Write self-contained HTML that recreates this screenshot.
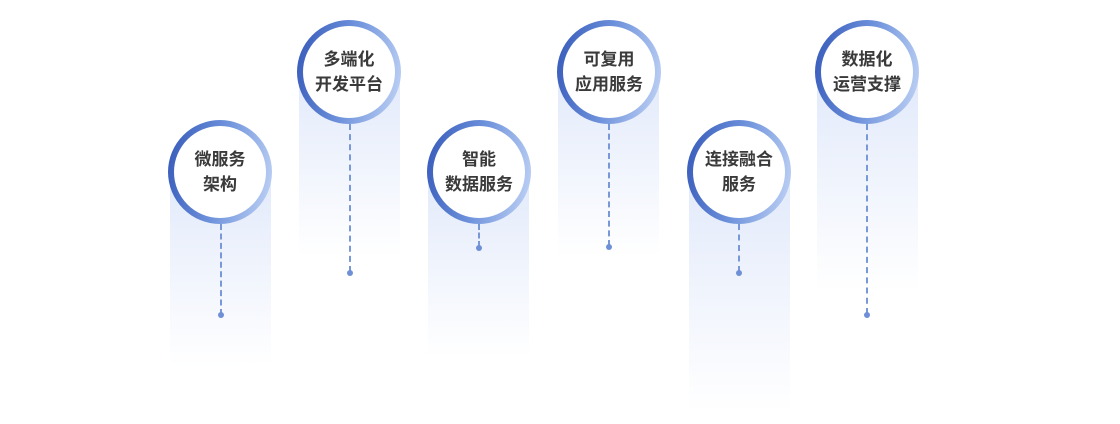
<!DOCTYPE html>
<html><head><meta charset="utf-8"><style>
body{margin:0;width:1120px;height:424px;background:#fff;position:relative;overflow:hidden;font-family:"Liberation Sans","Noto Sans CJK SC",sans-serif}
.col{position:absolute;width:101px;background:linear-gradient(#e1e9fa,#ffffff)}
.ring{position:absolute;width:104px;height:104px;border-radius:50%;background:linear-gradient(100deg,#3458b8 0%,#6f93dc 50%,#c3d5f6 100%)}
.ring div{position:absolute;left:6px;top:6px;width:92px;height:92px;border-radius:50%;background:#fff;display:flex;align-items:center;justify-content:center;text-align:center;font-size:17px;font-weight:bold;color:#3a3a3a;line-height:25px}
.dash{position:absolute;width:0;border-left:2px dashed #7898d8}
.dot{position:absolute;width:6px;height:6px;border-radius:50%;background:#6f8fd6}
</style></head><body>
<div class="col" style="left:170px;top:172px;height:195px"></div>
<div class="col" style="left:299px;top:72px;height:185px"></div>
<div class="col" style="left:428px;top:172px;height:185px"></div>
<div class="col" style="left:558px;top:72px;height:185px"></div>
<div class="col" style="left:689px;top:172px;height:240px"></div>
<div class="col" style="left:817px;top:72px;height:220px"></div>

<div class="dash" style="left:220px;top:224px;height:91px"></div><div class="dot" style="left:218px;top:312px"></div>
<div class="dash" style="left:349px;top:124px;height:148px"></div><div class="dot" style="left:347px;top:270px"></div>
<div class="dash" style="left:478px;top:224px;height:23px"></div><div class="dot" style="left:476px;top:245px"></div>
<div class="dash" style="left:608px;top:124px;height:122px"></div><div class="dot" style="left:606px;top:244px"></div>
<div class="dash" style="left:738px;top:224px;height:48px"></div><div class="dot" style="left:736px;top:270px"></div>
<div class="dash" style="left:866px;top:124px;height:190px"></div><div class="dot" style="left:864px;top:312px"></div>

<div class="ring" style="left:168px;top:120px"><div>微服务<br>架构</div></div>
<div class="ring" style="left:297px;top:20px"><div>多端化<br>开发平台</div></div>
<div class="ring" style="left:427px;top:120px"><div>智能<br>数据服务</div></div>
<div class="ring" style="left:557px;top:20px"><div>可复用<br>应用服务</div></div>
<div class="ring" style="left:687px;top:120px"><div>连接融合<br>服务</div></div>
<div class="ring" style="left:815px;top:20px"><div>数据化<br>运营支撑</div></div>
</body></html>
